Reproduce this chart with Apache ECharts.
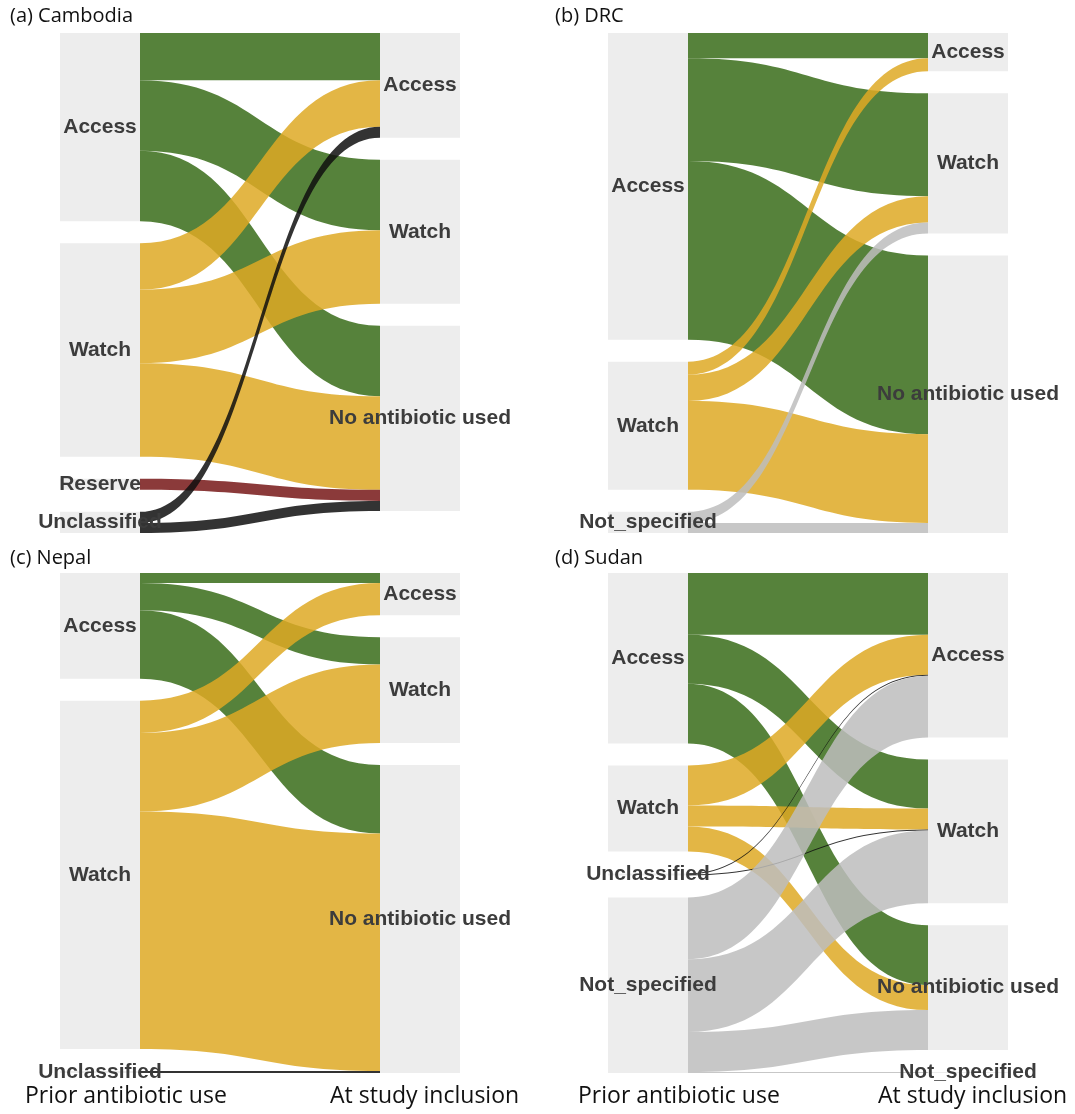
<!DOCTYPE html>
<html>
<head>
<meta charset="utf-8">
<title>Prior antibiotic use and use at study inclusion</title>
<script src="https://cdn.jsdelivr.net/npm/echarts@6/dist/echarts.min.js"></script>
<style>
html, body { margin: 0; padding: 0; background: #fff; }
#main { width: 1075px; height: 1114px; }
</style>
</head>
<body>
<div id="main"></div>
<script>
// 各国的分类 (prior -> at study inclusion)
var priorCambodia = ['Access', 'Watch', 'Reserve', 'Unclassified'];
var inclusionCambodia = ['Access', 'Watch', 'No antibiotic used'];
var flowsCambodia = [
	['Access', 'Access', 47], ['Access', 'Watch', 70], ['Access', 'No antibiotic used', 70],
	['Watch', 'Access', 46], ['Watch', 'Watch', 73], ['Watch', 'No antibiotic used', 93],
	['Reserve', 'No antibiotic used', 11],
	['Unclassified', 'Access', 11], ['Unclassified', 'No antibiotic used', 10]
];

var priorDRC = ['Access', 'Watch', 'Not_specified'];
var inclusionDRC = ['Access', 'Watch', 'No antibiotic used'];
var flowsDRC = [
	['Access', 'Access', 25], ['Access', 'Watch', 102], ['Access', 'No antibiotic used', 177],
	['Watch', 'Access', 13], ['Watch', 'Watch', 26], ['Watch', 'No antibiotic used', 88],
	['Not_specified', 'Watch', 11], ['Not_specified', 'No antibiotic used', 10]
];

var priorNepal = ['Access', 'Watch', 'Unclassified'];
var inclusionNepal = ['Access', 'Watch', 'No antibiotic used'];
var flowsNepal = [
	['Access', 'Access', 10], ['Access', 'Watch', 27], ['Access', 'No antibiotic used', 68],
	['Watch', 'Access', 32], ['Watch', 'Watch', 78], ['Watch', 'No antibiotic used', 236],
	['Unclassified', 'No antibiotic used', 2]
];

var priorSudan = ['Access', 'Watch', 'Unclassified', 'Not_specified'];
var inclusionSudan = ['Access', 'Watch', 'No antibiotic used', 'Not_specified'];
var flowsSudan = [
	['Access', 'Access', 62], ['Access', 'Watch', 49], ['Access', 'No antibiotic used', 60],
	['Watch', 'Access', 40], ['Watch', 'Watch', 21], ['Watch', 'No antibiotic used', 25],
	['Unclassified', 'Access', 1], ['Unclassified', 'Watch', 1],
	['Not_specified', 'Access', 62], ['Not_specified', 'Watch', 73],
	['Not_specified', 'No antibiotic used', 40], ['Not_specified', 'Not_specified', 1]
];

var panelTitles = ['(a) Cambodia', '(b) DRC', '(c) Nepal', '(d) Sudan'];
var stageNames = ['Prior antibiotic use', 'At study inclusion'];

// 颜色按来源分类
var classColors = {
	'Access': '#386c19',
	'Watch': '#dea924',
	'Reserve': '#771818',
	'Unclassified': '#0f0f0f',
	'Not_specified': '#bdbdbd'
};

/*生成一个桑基图series*/
var buildSankey = function(prior, inclusion, flows, left, top){
	var nodes = [];
	prior.forEach(function(n){ nodes.push({name: 'prior|' + n}); });
	inclusion.forEach(function(n){ nodes.push({name: 'incl|' + n}); });
	var links = flows.map(function(f){
		return {
			source: 'prior|' + f[0],
			target: 'incl|' + f[1],
			value: f[2],
			lineStyle: {color: classColors[f[0]]}
		};
	});
	return {
		type: 'sankey',
		silent: true,
		left: left,
		top: top,
		width: 400,
		height: 500,
		nodeWidth: 80,
		nodeGap: 22,
		layoutIterations: 0,
		draggable: false,
		emphasis: {disabled: true},
		itemStyle: {color: '#ededed', borderWidth: 0},
		lineStyle: {opacity: 0.85, curveness: 0.5},
		label: {
			position: 'inside',
			color: '#3c3c3c',
			fontWeight: 'bold',
			fontSize: 21,
			fontFamily: 'Liberation Sans',
			formatter: function(p){ return p.name.split('|')[1]; }
		},
		data: nodes,
		links: links
	};
};

var textTitle = function(text, left, top, size){
	return {
		text: text, left: left, top: top, padding: 0,
		textStyle: {fontSize: size, fontWeight: 'normal', color: '#111', fontFamily: 'Open Sans'}
	};
};

var myChart = echarts.init(document.getElementById('main'));
myChart.setOption({
	backgroundColor: '#fff',
	animation: false,
	title: [
		textTitle(panelTitles[0], 10, 6, 20),
		textTitle(panelTitles[1], 555, 6, 20),
		textTitle(panelTitles[2], 10, 548, 20),
		textTitle(panelTitles[3], 555, 548, 20),
		textTitle(stageNames[0], 25, 1085, 23),
		textTitle(stageNames[1], 330, 1085, 23),
		textTitle(stageNames[0], 578, 1085, 23),
		textTitle(stageNames[1], 878, 1085, 23)
	],
	series: [
		buildSankey(priorCambodia, inclusionCambodia, flowsCambodia, 60, 33),
		buildSankey(priorDRC, inclusionDRC, flowsDRC, 608, 33),
		buildSankey(priorNepal, inclusionNepal, flowsNepal, 60, 573),
		buildSankey(priorSudan, inclusionSudan, flowsSudan, 608, 573)
	]
});
</script>
</body>
</html>
